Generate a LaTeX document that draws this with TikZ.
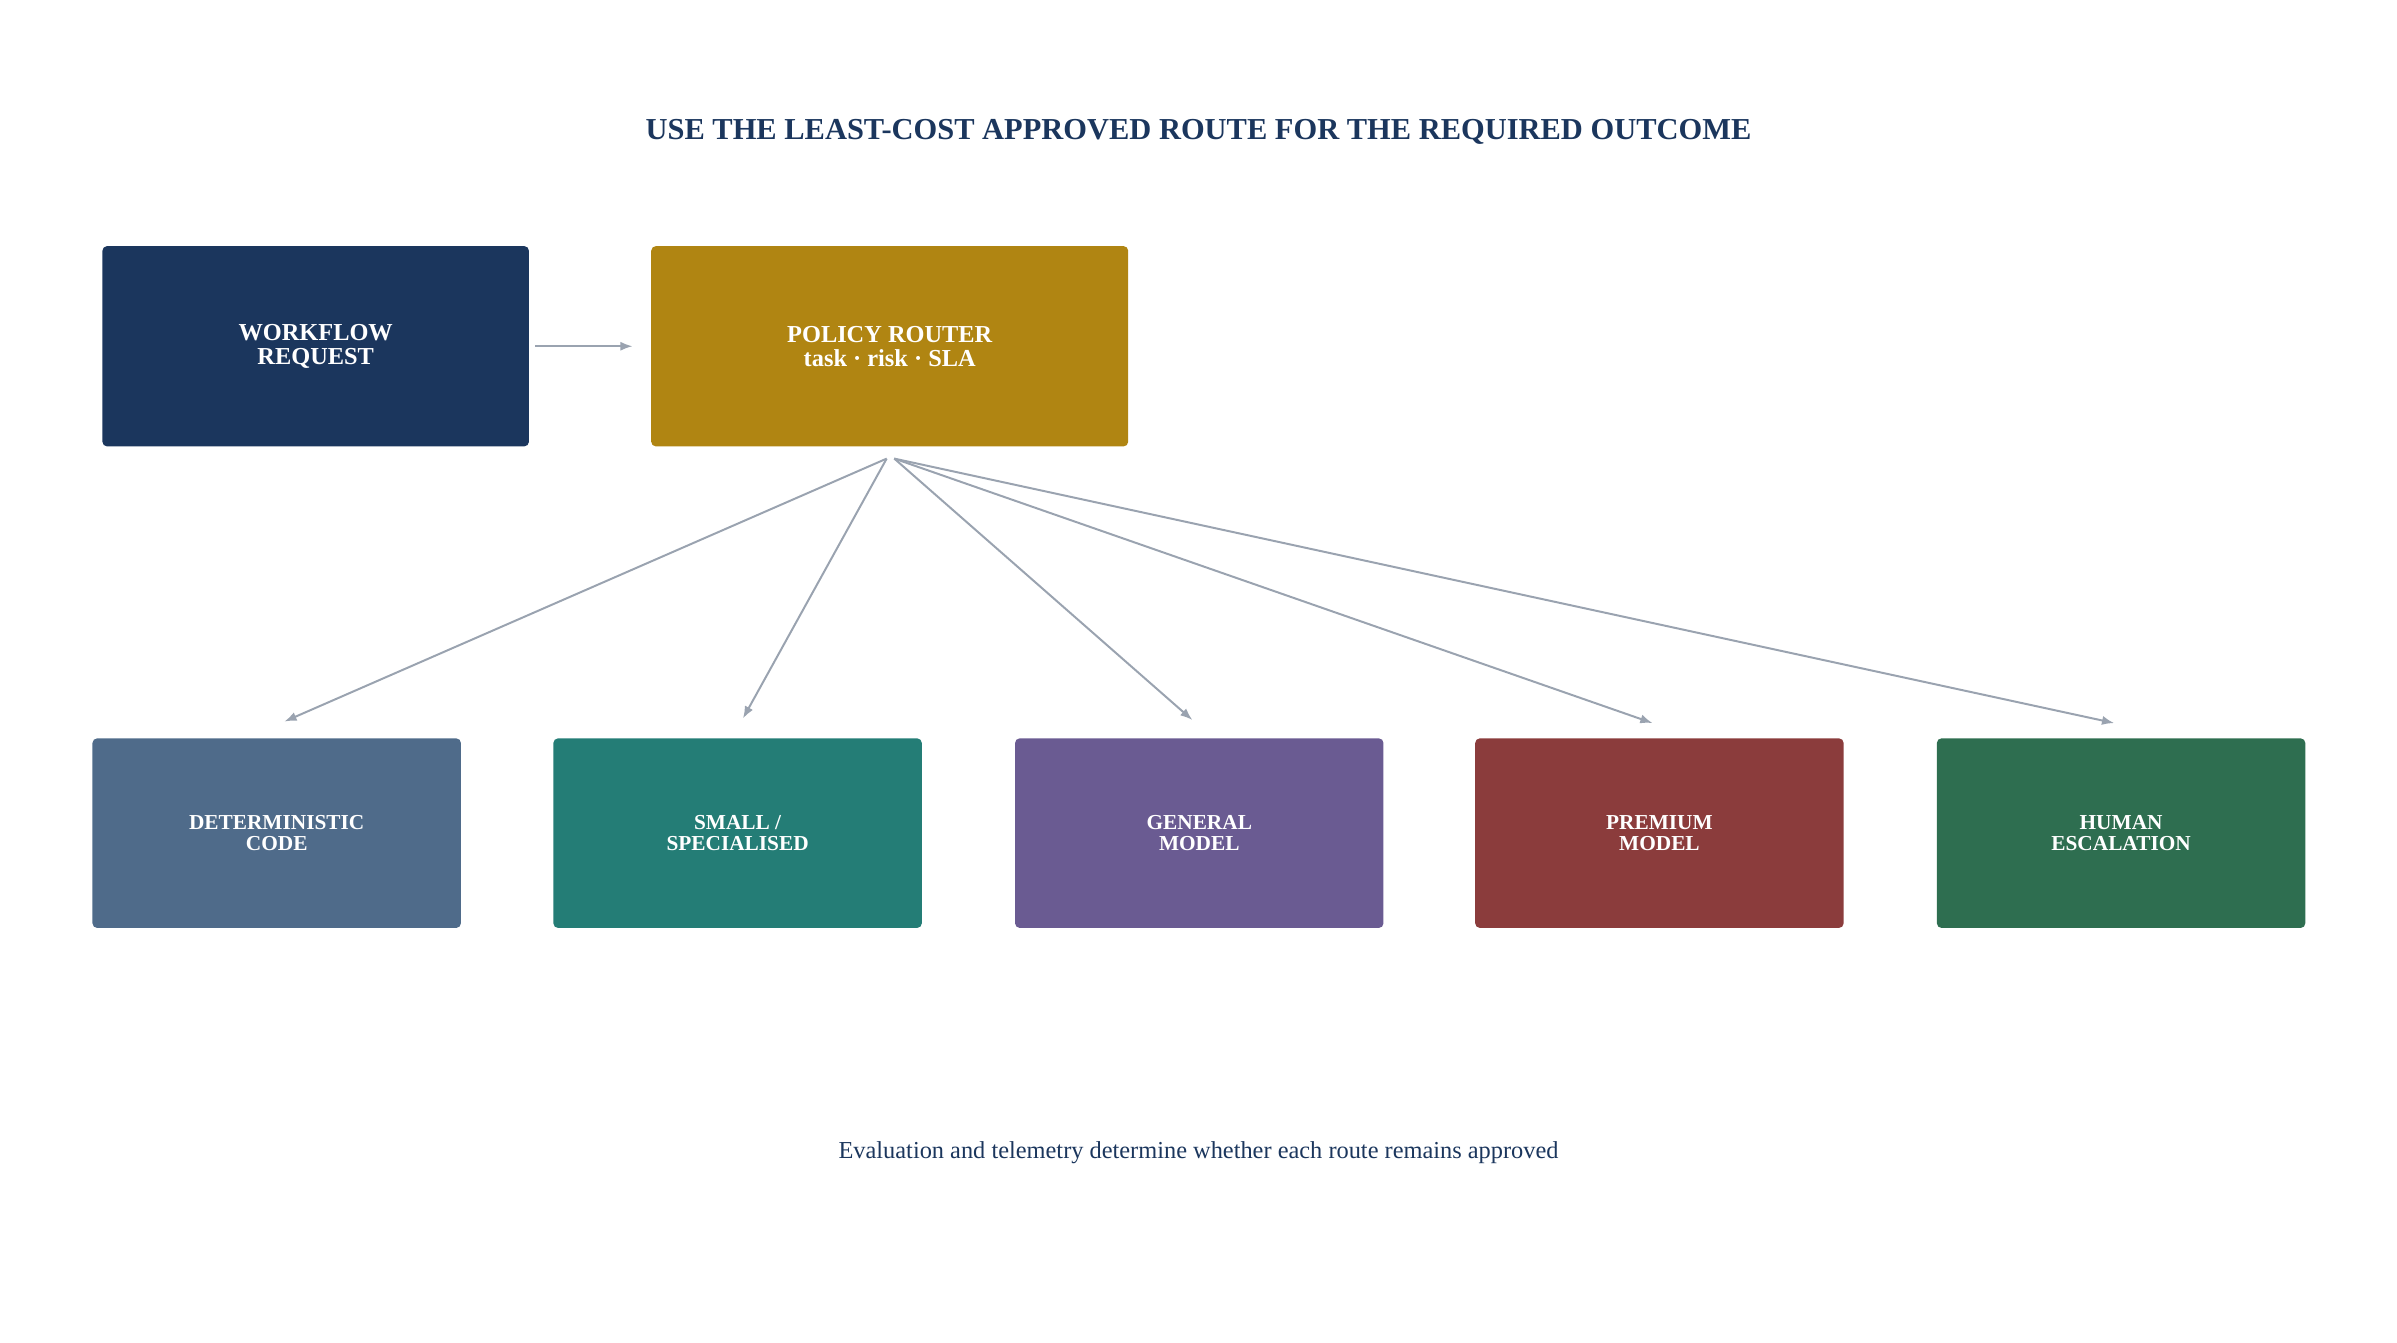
\documentclass[tikz,border=0pt]{standalone}
\usepackage{fontspec}
\setmainfont{Liberation Serif}
\usetikzlibrary{arrows.meta}
\definecolor{navy}{HTML}{1B365D}
\definecolor{gold}{HTML}{B08512}
\definecolor{slate}{HTML}{4F6B8A}
\definecolor{teal2}{HTML}{247D76}
\definecolor{purp}{HTML}{6A5B92}
\definecolor{red2}{HTML}{8B3C3C}
\definecolor{green2}{HTML}{2E6E50}
\definecolor{arr}{HTML}{9AA3B0}
\begin{document}
\begin{tikzpicture}[x=1bp,y=-1bp,
 box/.style={draw=none,rounded corners=3bp,text=white,align=center,font=\bfseries\fontsize{16}{16}\selectfont},
 sbox/.style={box,minimum width=241bp,minimum height=124bp,font=\bfseries\fontsize{14}{14}\selectfont},
 con/.style={draw=arr,line width=1.3bp,-{Latex[length=8bp,width=6bp]}}]
\useasboundingbox (0,0) rectangle (1568,878);
\node[text=navy,font=\bfseries\fontsize{20}{20}\selectfont] (title) at (784,86) {USE THE LEAST-COST APPROVED ROUTE FOR THE REQUIRED OUTCOME};
\node[box,fill=navy,minimum width=279bp,minimum height=131bp] (req) at (206.5,226.5) {WORKFLOW\\REQUEST};
\node[box,fill=gold,minimum width=312bp,minimum height=131bp] (pol) at (582,226.5) {POLICY ROUTER\\task · risk · SLA};
\node[sbox,fill=slate] (b1) at (181,545) {DETERMINISTIC\\CODE};
\node[sbox,fill=teal2] (b2) at (482.5,545) {SMALL /\\SPECIALISED};
\node[sbox,fill=purp] (b3) at (784.5,545) {GENERAL\\MODEL};
\node[sbox,fill=red2] (b4) at (1085.5,545) {PREMIUM\\MODEL};
\node[sbox,fill=green2] (b5) at (1387.5,545) {HUMAN\\ESCALATION};
\node[text=navy,font=\fontsize{16}{16}\selectfont] (foot) at (784,754) {Evaluation and telemetry determine whether each route remains approved};
\coordinate (o1) at (580,300);
\coordinate (o2) at (585,300);
\coordinate (e1) at (186,472);
\coordinate (e2) at (486,470);
\coordinate (e3) at (780,471);
\coordinate (e4) at (1081,473);
\coordinate (e5) at (1383,473);
\draw[con] ([xshift=4bp]req.east) -- ([xshift=-12bp]pol.west);
\draw[con] (o1) -- (e1);
\draw[con] (o1) -- (e2);
\draw[con] (o2) -- (e3);
\draw[con] (o2) -- (e4);
\draw[con] (o2) -- (e5);
\end{tikzpicture}
\end{document}
